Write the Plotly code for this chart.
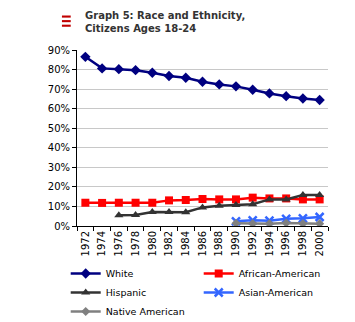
import plotly.graph_objects as go

years = [str(y) for y in range(1972, 2001, 2)]
white = [86.5, 80.6, 80.2, 79.7, 78.4, 76.7, 75.8, 73.8, 72.4, 71.4, 69.7, 67.8, 66.4, 65.2, 64.4]
african = [11.9, 11.8, 11.9, 11.9, 11.9, 13.1, 13.3, 13.8, 13.6, 13.6, 14.5, 14.1, 14.1, 13.6, 13.6]
hispanic = [None, None, 5.5, 5.6, 7.2, 7.2, 7.0, 9.5, 10.4, 10.7, 11.1, 13.6, 13.6, 15.8, 15.8]
asian = [None] * 9 + [2.4, 2.9, 2.7, 3.7, 3.9, 4.6]
native = [None] * 9 + [1.4, 1.2, 1.2, 1.5, 1.2, 1.2]
y_ticks = list(range(0, 91, 10))
y_labels = [f"{v}%" for v in y_ticks]

series = [
    ("White", white, "#000080", "diamond", 8),
    ("African-American", african, "#FF0000", "square", 8),
    ("Hispanic", hispanic, "#333333", "triangle-up", 8),
    ("Asian-American", asian, "#3366FF", "x-thin-open", 8),
    ("Native American", native, "#808080", "diamond", 7),
]

fig = go.Figure()
for name, vals, color, sym, size in series:
    fig.add_trace(go.Scatter(
        x=years, y=vals, name=name, mode="lines+markers",
        line=dict(color=color, width=2.5),
        marker=dict(symbol=sym, size=size, color=color,
                    line=dict(color=color, width=2.5 if "x" in sym else 0)),
        connectgaps=False,
    ))

fig.update_layout(
    width=355, height=322,
    margin=dict(l=77, r=27, t=50, b=96, autoexpand=False),
    paper_bgcolor="white", plot_bgcolor="white",
    font=dict(family="DejaVu Sans", size=10, color="#000"),
    xaxis=dict(type="category", range=[-0.5, 14.5], tickangle=-90,
               showline=True, linecolor="#000", linewidth=1,
               ticks="outside", ticklen=4, tickcolor="#000",
               tickson="boundaries", showgrid=False,
               tickfont=dict(size=10)),
    yaxis=dict(range=[0, 90], tickmode="array", tickvals=y_ticks, ticktext=y_labels,
               showline=True, linecolor="#000", linewidth=1,
               ticks="outside", ticklen=4, tickcolor="#000",
               showgrid=True, gridcolor="#C8C8C8", gridwidth=1,
               zeroline=False, tickfont=dict(size=10)),
    legend=dict(orientation="h", x=-0.045, xanchor="left",
                yref="paper", y=(226 - 259) / 176, yanchor="top",
                entrywidth=88, entrywidthmode="pixels",
                font=dict(size=9.5), itemwidth=30),
    showlegend=True,
)

fig.add_annotation(text="<b>Graph 5: Race and Ethnicity,<br>Citizens Ages 18-24</b>",
                   xref="paper", yref="paper", x=(83 - 77) / 251, y=1 + (50 - 8) / 176,
                   xanchor="left", yanchor="top", align="left", showarrow=False,
                   font=dict(family="DejaVu Sans", size=10, color="#333333"))

for y0, y1 in [(1.184, 1.196), (1.158, 1.170), (1.132, 1.144)]:
    fig.add_shape(type="rect", xref="paper", yref="paper",
                  x0=-0.06, x1=-0.025, y0=y0, y1=y1,
                  fillcolor="#C00000", line=dict(width=0))

fig.write_html("out.html")
